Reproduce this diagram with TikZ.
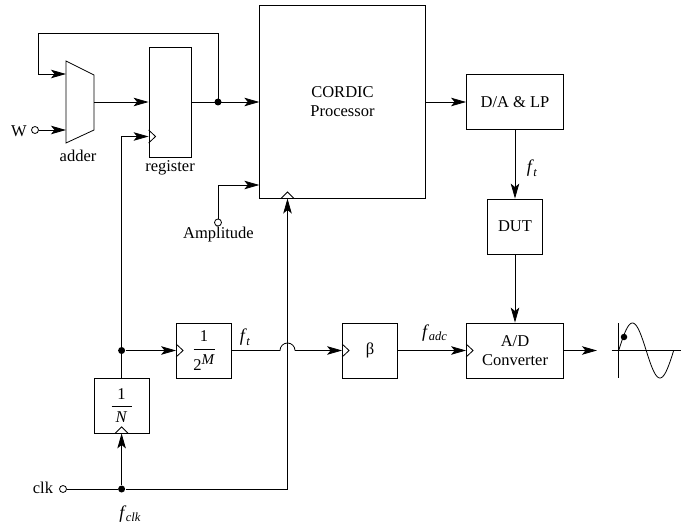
\documentclass[tikz,border=0pt]{standalone}
\usepackage{fontspec}
\setmainfont{Liberation Serif}
\usetikzlibrary{arrows.meta}
\tikzset{
    block/.style={draw,inner sep=0pt,align=center,minimum width=55pt,minimum height=55pt},
    wideblock/.style={block,minimum width=97pt},
    dotnode/.style={circle,fill=black,inner sep=0pt,minimum size=7pt},
    pin/.style={circle,draw,fill=white,inner sep=0pt,minimum size=7pt},
    lab/.style={inner sep=0pt},
    sig/.style={-{Stealth[length=15pt,width=8.5pt,inset=3.5pt]}}
}
\newcommand{\fsub}[1]{{\fontsize{18}{19}\selectfont\textit{f}}\kern-0.5pt\raisebox{-3.5pt}{\fontsize{12.5}{13}\selectfont\textit{#1}}}
\begin{document}
\begin{tikzpicture}[x=1pt,y=-1pt,line width=0.8pt,font=\fontsize{16.5}{19}\selectfont]
    \useasboundingbox (0,0) rectangle (689,527);
    % blocks
    \node[block,minimum width=165.5pt,minimum height=193pt] (proc) at (342.5,102) {CORDIC\\Processor};
    \node[block,minimum width=42pt,minimum height=110pt] (reg) at (170,102) {};
    \node[wideblock] (dalp) at (515,102) {D/A \& LP};
    \node[block] (dut) at (515,226.5) {DUT};
    \node[wideblock] (adc) at (515,350.5) {A/D\\Converter};
    \node[block] (beta) at (370,350.5) {β};
    \node[block] (divm) at (204,350.5) {$\displaystyle\frac{\textrm{1}}{\rule{0pt}{20pt}\makebox[21pt]{\textrm{2}\raisebox{6pt}{\fontsize{15}{15}\selectfont\textit{M}}}}$};
    \node[block] (divn) at (121.6,405.5) {$\displaystyle\frac{\textrm{1}}{\makebox[20pt]{\textit{N}}}$};
    % adder
    \draw (66,61) coordinate (addtop) -- (94,75) -- (94,130) -- (66,143) coordinate (addbot) -- cycle;
    \coordinate (addouta) at (94,102);
    \coordinate (addina) at (66,74);
    \coordinate (addinb) at (66,130);
    % clock marks
    \draw (reg.west |- 0,130) -- +(7,6.5) -- (reg.west |- 0,143);
    \draw (divm.west) ++(0,-6.5) -- +(7,6.5) -- +(0,13);
    \draw (beta.west) ++(0,-6.5) -- +(7,6.5) -- +(0,13);
    \draw (adc.west) ++(0,-6.5) -- +(7,6.5) -- +(0,13);
    \draw (divn.south) ++(-6.5,0) -- +(6.5,-6.5) -- +(13,0);
    \coordinate (procclk) at (287.5,198.5);
    \draw (procclk) ++(-6.5,0) -- +(6.5,-6.5) -- +(13,0);
    % junctions and pins
    \node[dotnode] (fb) at (218,102) {};
    \node[dotnode] (div) at (121.6,350.5) {};
    \node[dotnode] (clkdot) at (121.6,489) {};
    \node[pin] (win) at (35,130) {};
    \node[pin] (ampin) at (218,222.5) {};
    \node[pin] (clkin) at (63,489) {};
    % labels
    \node[lab] (wlab) at (19,131) {W};
    \node[lab] (addlab) at (78,156) {adder};
    \node[lab] (reglab) at (170,168) {register};
    \node[lab] (amplab) at (218.5,235) {Amplitude};
    \node[lab] (clklab) at (43,488) {clk};
    \node[lab] (fclk) at (130,514) {\fsub{clk}};
    \node[lab] (ftm) at (245,337.5) {\fsub{t}};
    \node[lab] (ftd) at (532,168.5) {\fsub{t}};
    \node[lab] (fadc) at (434.5,333) {\fsub{adc}};
    % signals
    \draw[sig] (addouta) -- (reg.west);
    \draw[sig] (reg.east) -- (proc.west);
    \draw (fb.center) -- (218,33) -- (38,33) -- (38,74) coordinate (fbend);
    \draw[sig] (fbend) -- (addina);
    \draw[sig] (win) -- (addinb);
    \draw[sig] (ampin) |- (proc.west |- 0,185);
    \draw[sig] (proc.east) -- (dalp.west);
    \draw[sig] (dalp.south) -- (dut.north);
    \draw[sig] (dut.south) -- (adc.north);
    \draw[sig] (adc.east) -- (597,350.5) coordinate (adcout);
    \draw[sig] (divn.north) -- (div.center) -- (121.6,136.5) -- (reg.west |- 0,136.5);
    \draw[sig] (div) -- (divm.west);
    \draw[sig] (clkdot) -- (divn.south);
    \draw (clkin) -- (clkdot);
    \draw[sig] (clkdot) -| (procclk);
    \draw (divm.east) -- (280,350.5) arc[start angle=180,end angle=360,radius=7.5] coordinate (humpend);
    \draw[sig] (humpend) -- (beta.west);
    \draw[sig] (beta.east) -- (adc.west);
    % output wave
    \draw (618.7,323) -- (618.7,378);
    \draw (611.7,350.5) -- (681,350.5);
    \draw plot[domain=0:360,samples=60,smooth] ({618.7+\x/360*55},{350.5-27.5*sin(\x)});
    \node[dotnode,minimum size=6.5pt] (wavedot) at (624,337) {};
\end{tikzpicture}
\end{document}
